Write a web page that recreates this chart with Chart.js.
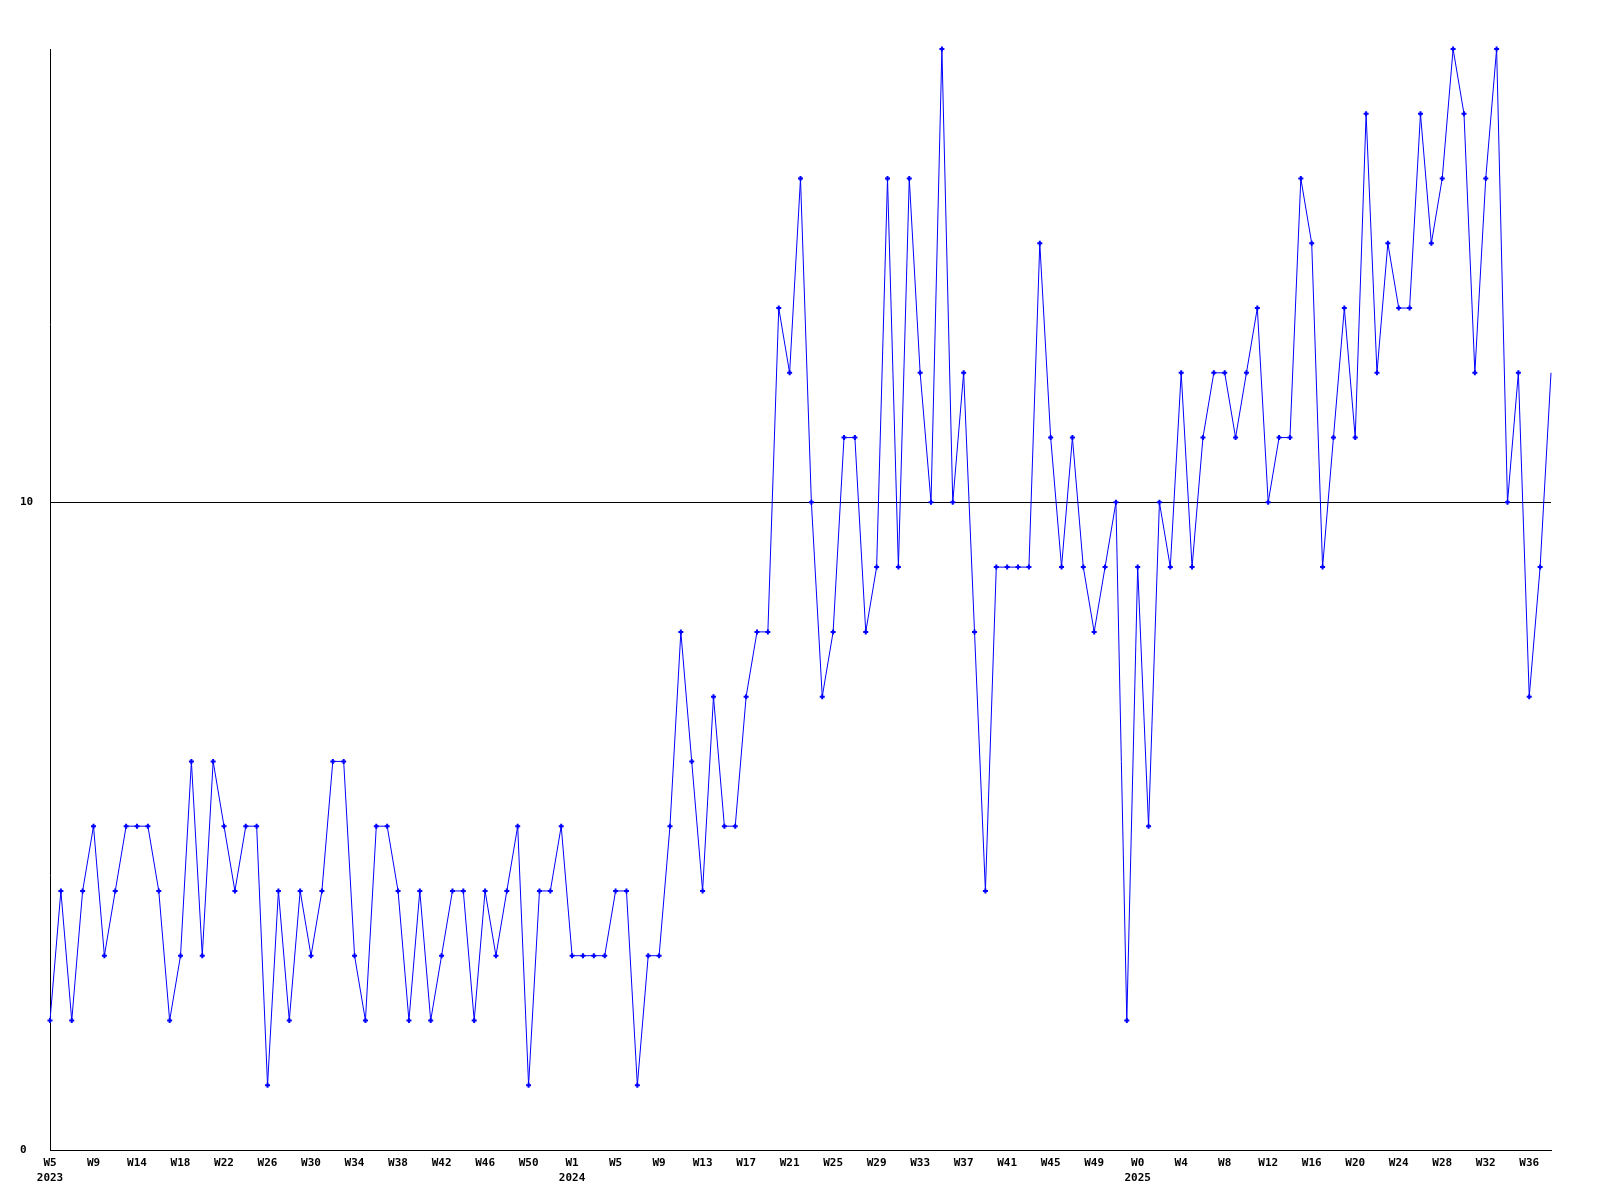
<!DOCTYPE html>
<html>
<head>
<meta charset="utf-8">
<title>Weekly chart</title>
<script src="https://cdn.jsdelivr.net/npm/chart.js@4.4.1/dist/chart.umd.min.js"></script>
<style>
  html, body { margin: 0; padding: 0; background: #fff; }
  #wrap { width: 1600px; height: 1200px; position: relative; }
</style>
</head>
<body>
<div id="wrap"><canvas id="weekChart"></canvas></div>
<script>
// week labels, one per point (2023 W5 .. 2025 W38)
const weeks = [
  "W5","W6","W7","W8","W9","W11","W12","W13","W14","W15","W16","W17","W18","W19","W20","W21",
  "W22","W23","W24","W25","W26","W27","W28","W29","W30","W31","W32","W33","W34","W35","W36","W37",
  "W38","W39","W40","W41","W42","W43","W44","W45","W46","W47","W48","W49","W50","W51","W52","W53",
  "W1","W2","W3","W4","W5","W6","W7","W8","W9","W10","W11","W12","W13","W14","W15","W16",
  "W17","W18","W19","W20","W21","W22","W23","W24","W25","W26","W27","W28","W29","W30","W31","W32",
  "W33","W34","W35","W36","W37","W38","W39","W40","W41","W42","W43","W44","W45","W46","W47","W48",
  "W49","W50","W51","W52",
  "W0","W1","W2","W3","W4","W5","W6","W7","W8","W9","W10","W11","W12","W13","W14","W15",
  "W16","W17","W18","W19","W20","W21","W22","W23","W24","W25","W26","W27","W28","W29","W30","W31",
  "W32","W33","W34","W35","W36","W37","W38"
];

// year shown under the first week of each year
const yearIndex = [0, 48, 100];
const yearNames = ["2023", "2024", "2025"];

const counts = [
  2,4,2,4,5,3,4,5,5,5,4,2,3,6,3,6,5,4,5,5,1,4,2,4,3,4,6,6,3,2,5,5,
  4,2,4,2,3,4,4,2,4,3,4,5,1,4,4,5,
  3,3,3,3,4,4,1,3,3,5,8,6,4,7,5,5,7,8,8,13,12,15,10,7,8,11,11,8,9,15,9,15,
  12,10,17,10,12,8,4,9,9,9,9,14,11,9,11,9,8,9,10,2,
  9,5,10,9,12,9,11,12,12,11,12,13,10,11,11,15,14,9,11,13,11,16,12,14,13,13,16,14,
  15,17,16,12,15,17,10,12,7,9,12
];

const yTicks = [0, 10];

const monoFont = { family: "'DejaVu Sans Mono', monospace", size: 11, weight: "bold", lineHeight: "15px" };

// last week is still running, so no marker on it
const radii = counts.map(function (v, i) {
  return i === counts.length - 1 ? 0 : 2.5;
});

const ctx = document.getElementById("weekChart");
new Chart(ctx, {
  type: "line",
  data: {
    labels: weeks,
    datasets: [
      {
        data: counts,
        borderColor: "#0000ff",
        borderWidth: 1,
        tension: 0,
        clip: false,
        pointStyle: "cross",
        pointRadius: radii,
        pointBorderWidth: 2,
        pointBorderColor: "#0000ff",
        pointBackgroundColor: "#0000ff",
      },
    ],
  },
  options: {
    responsive: true,
    maintainAspectRatio: false,
    devicePixelRatio: 1,
    animation: false,
    layout: { padding: { left: 20, top: 49, right: 49, bottom: 0 } },
    plugins: {
      legend: { display: false },
      tooltip: { enabled: false },
    },
    scales: {
      x: {
        offset: false,
        grid: { display: false },
        border: { display: true, color: "#000", width: 1 },
        afterFit: function (scale) {
          scale.height = 50;
        },
        ticks: {
          autoSkip: false,
          maxRotation: 0,
          minRotation: 0,
          padding: -2,
          color: "#000",
          font: monoFont,
          callback: function (value, index) {
            if (index % 4 !== 0) return "";
            const y = yearIndex.indexOf(index);
            if (y !== -1) return [weeks[index], yearNames[y]];
            return weeks[index];
          },
        },
      },
      y: {
        min: 0,
        max: 17,
        afterBuildTicks: function (scale) {
          scale.ticks = yTicks.map(function (v) {
            return { value: v };
          });
        },
        afterFit: function (scale) {
          scale.width = 30;
        },
        grid: { color: "#000", lineWidth: 1, drawTicks: false },
        border: { display: true, color: "#000", width: 1 },
        ticks: {
          crossAlign: "far",
          color: "#000",
          font: monoFont,
        },
      },
    },
  },
});
</script>
</body>
</html>
